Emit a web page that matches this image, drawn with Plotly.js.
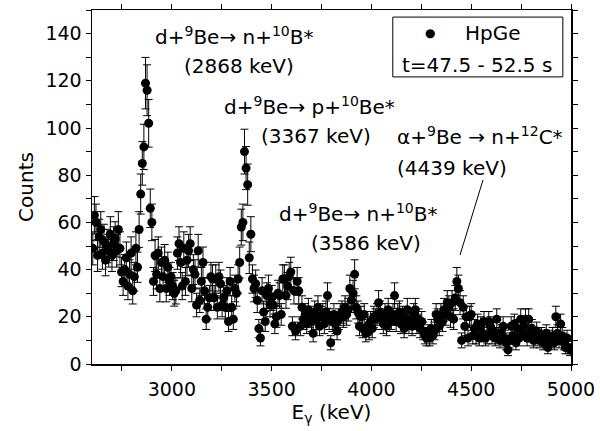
<!DOCTYPE html>
<html>
<head>
<meta charset="utf-8">
<script src="https://cdn.plot.ly/plotly-3.0.1.min.js"></script>
<style>html,body{margin:0;padding:0;background:#fff;}#chart{width:600px;height:431px;}</style>
</head>
<body>
<div id="chart"></div>
<script>
// Gamma energy bin centres (keV)
const energy = [
2604,2612,2620,2628,2636,2644,2652,2660,2668,2676,
2684,2692,2700,2708,2716,2724,2732,2740,2748,2756,
2764,2772,2780,2788,2796,2804,2812,2820,2828,2836,
2844,2852,2860,2868,2876,2884,2892,2900,2908,2916,
2924,2932,2940,2948,2956,2964,2972,2980,2988,2996,
3004,3012,3020,3028,3036,3044,3052,3060,3068,3076,
3084,3092,3100,3108,3116,3124,3132,3140,3148,3156,
3164,3172,3180,3188,3196,3204,3212,3220,3228,3236,
3244,3252,3260,3268,3276,3284,3292,3300,3308,3316,
3324,3332,3340,3348,3356,3364,3372,3380,3388,3396,
3404,3412,3420,3428,3436,3444,3452,3460,3468,3476,
3484,3492,3500,3508,3516,3524,3532,3540,3548,3556,
3564,3572,3580,3588,3596,3604,3612,3620,3628,3636,
3644,3652,3660,3668,3676,3684,3692,3700,3708,3716,
3724,3732,3740,3748,3756,3764,3772,3780,3788,3796,
3804,3812,3820,3828,3836,3844,3852,3860,3868,3876,
3884,3892,3900,3908,3916,3924,3932,3940,3948,3956,
3964,3972,3980,3988,3996,4004,4012,4020,4028,4036,
4044,4052,4060,4068,4076,4084,4092,4100,4108,4116,
4124,4132,4140,4148,4156,4164,4172,4180,4188,4196,
4204,4212,4220,4228,4236,4244,4252,4260,4268,4276,
4284,4292,4300,4308,4316,4324,4332,4340,4348,4356,
4364,4372,4380,4388,4396,4404,4412,4420,4428,4436,
4444,4452,4460,4468,4476,4484,4492,4500,4508,4516,
4524,4532,4540,4548,4556,4564,4572,4580,4588,4596,
4604,4612,4620,4628,4636,4644,4652,4660,4668,4676,
4684,4692,4700,4708,4716,4724,4732,4740,4748,4756,
4764,4772,4780,4788,4796,4804,4812,4820,4828,4836,
4844,4852,4860,4868,4876,4884,4892,4900,4908,4916,
4924,4932,4940,4948,4956,4964,4972,4980,4988,4996
];
// HpGe counts per bin
const counts = [
49,63,60,46,54,57,47,52,44,50,
48,55,46,51,53,48,57,49,39,35,
40,45,33,38,47,31,37,49,41,57,
72,85,92,119,116,102,66,60,35,46,
38,47,32,43,37,44,32,41,35,37,
33,30,31,47,51,43,33,49,35,44,
48,51,32,40,38,25,48,27,35,43,
31,19,24,28,37,36,28,36,24,37,
34,25,28,24,31,18,35,24,19,32,
30,36,43,58,60,90,83,76,45,55,
36,32,34,27,15,11,31,22,18,29,
32,25,28,25,17,20,30,29,21,36,
36,29,33,37,39,16,31,14,35,31,
16,24,19,21,17,23,20,18,13,22,
19,24,16,20,21,17,22,29,19,9,
18,21,17,14,19,21,22,20,24,21,
23,32,27,30,38,24,22,16,20,15,
21,13,16,14,18,15,20,19,21,26,
22,19,17,21,16,23,18,19,21,29,
18,21,22,17,20,15,19,23,17,19,
16,21,23,17,19,15,18,14,12,11,
13,11,15,12,14,21,19,16,21,18,
23,21,26,24,20,26,19,28,35,32,
26,10,24,16,20,11,20,21,12,15,
12,17,11,16,13,18,11,12,18,16,
12,14,11,19,12,10,13,16,11,9,
6,10,16,12,17,9,15,11,19,14,
16,19,11,19,13,15,10,11,14,12,
10,12,9,11,13,7,11,10,12,9,
20,13,10,17,12,9,7,11,7,6
];
const xTicks = [3000, 3500, 4000, 4500, 5000];
const yTicks = [0, 20, 40, 60, 80, 100, 120, 140];

const FONT = 'DejaVu Sans, Liberation Sans, Arial, sans-serif';

const trace = {
  type: 'scatter', mode: 'markers', name: 'HpGe',
  x: energy, y: counts,
  marker: {color: '#000', size: 9},
  error_y: {type: 'sqrt', visible: true, color: '#000', thickness: 1, width: 4},
  cliponaxis: true, showlegend: false
};

function ann(text, x, y, xanchor) {
  return {text: text, xref: 'paper', yref: 'paper', x: x, y: y,
    xanchor: xanchor || 'center', yanchor: 'middle', showarrow: false,
    font: {family: FONT, size: 20, color: '#000'}};
}

const layout = {
  width: 600, height: 431,
  margin: {l: 92, r: 29, t: 10, b: 67},
  paper_bgcolor: '#fff', plot_bgcolor: '#fff',
  font: {family: FONT, size: 19, color: '#000'},
  showlegend: false,
  xaxis: {
    range: [2600, 5000], tickvals: xTicks, ticktext: xTicks.map(String),
    ticks: 'outside', ticklen: 5, tickwidth: 1, tickcolor: '#000', ticklabelstandoff: 3,
    minor: {dtick: 250, tick0: 0, ticks: 'outside', ticklen: 5, tickcolor: '#000', showgrid: false},
    showline: true, linecolor: '#000', linewidth: 1.5, mirror: 'allticks',
    showgrid: false, zeroline: false,
    tickfont: {family: FONT, size: 19, color: '#000'},
    title: {text: 'E<sub>γ</sub> (keV)', font: {family: FONT, size: 20, color: '#000'}, standoff: 1}
  },
  yaxis: {
    range: [0, 150], tickvals: yTicks, ticktext: yTicks.map(String),
    ticks: 'outside', ticklen: 5, tickwidth: 1, tickcolor: '#000',
    minor: {dtick: 10, tick0: 0, ticks: 'outside', ticklen: 5, tickcolor: '#000', showgrid: false},
    showline: true, linecolor: '#000', linewidth: 1.5, mirror: 'allticks',
    showgrid: false, zeroline: false,
    tickfont: {family: FONT, size: 19, color: '#000'},
    title: {text: 'Counts', font: {family: FONT, size: 20, color: '#000'}, standoff: 6}
  },
  shapes: [
    {type: 'rect', xref: 'paper', yref: 'paper', x0: 0.628, x1: 0.983, y0: 0.811, y1: 0.980,
     line: {color: '#000', width: 1}, fillcolor: 'rgba(0,0,0,0)'},
    {type: 'line', xref: 'paper', yref: 'paper', x0: 0.8163, y0: 0.5198, x1: 0.7683, y1: 0.3079,
     line: {color: '#000', width: 1}}
  ],
  annotations: [
    ann('d+<sup>9</sup>Be→ n+<sup>10</sup>B*', 0.2975, 0.9266),
    ann('(2868 keV)', 0.3079, 0.8418),
    ann('d+<sup>9</sup>Be→ p+<sup>10</sup>Be*', 0.4551, 0.7288),
    ann('(3367 keV)', 0.4666, 0.6441),
    ann('α+<sup>9</sup>Be → n+<sup>12</sup>C*', 0.6326, 0.6441, 'left'),
    ann('(4439 keV)', 0.6326, 0.5537, 'left'),
    ann('d+<sup>9</sup>Be→ n+<sup>10</sup>B*', 0.5574, 0.4266),
    ann('(3586 keV)', 0.5710, 0.3418),
    {text: '●', xref: 'paper', yref: 'paper', x: 0.7056, y: 0.9350, xanchor: 'center', yanchor: 'middle',
     showarrow: false, font: {family: 'DejaVu Sans', size: 12, color: '#000'}},
    ann('HpGe', 0.8372, 0.9350),
    ann('t=47.5 - 52.5 s', 0.8038, 0.8446)
  ]
};

Plotly.newPlot('chart', [trace], layout, {displayModeBar: false, staticPlot: true});
</script>
</body>
</html>
